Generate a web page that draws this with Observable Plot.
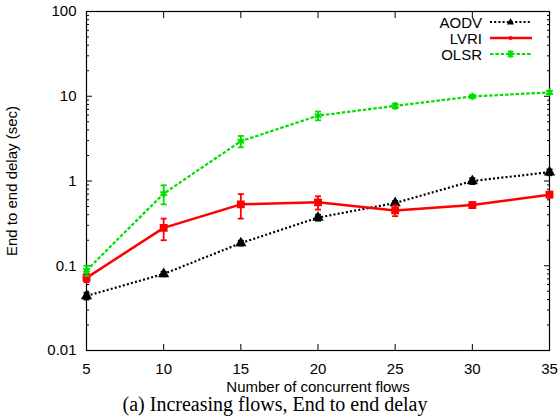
<!DOCTYPE html>
<html>
<head>
<meta charset="utf-8">
<script src="https://cdn.jsdelivr.net/npm/d3@7"></script>
<script src="https://cdn.jsdelivr.net/npm/@observablehq/plot@0.6"></script>
<style>
  html, body { margin: 0; padding: 0; background: #fff; }
  #wrap { position: relative; width: 558px; height: 419px; font-family: "Liberation Sans", Arial, sans-serif; }
  #legend { position: absolute; left: 0; width: 532px; top: 14px; font-size: 15px; color: #000; }
  #legend .row { display: flex; align-items: center; justify-content: flex-end; height: 16px; }
  #legend .row span { margin-right: 8px; }
  #caption { position: absolute; left: 0; width: 550px; top: 394px; text-align: center;
             font-family: "Liberation Serif", "Times New Roman", serif; font-size: 20px; line-height: 20px; }
</style>
</head>
<body>
<div id="wrap">
  <div id="chart"></div>
  <div id="legend"></div>
  <div id="caption">(a) Increasing flows, End to end delay</div>
</div>
<script>
// ---- data ----
const flows = [5, 10, 15, 20, 25, 30, 35];
const aodv    = [0.044, 0.080, 0.185, 0.37, 0.55, 1.00, 1.27];
const aodvErr = [0.004, 0.005, 0.012, 0.03, 0.03, 0.08, 0.10];
const lvri    = [0.072, 0.28, 0.53, 0.56, 0.45, 0.52, 0.69];
const lvriErr = [0.008, 0.08, 0.17, 0.10, 0.065, 0.04, 0.05];
const olsr    = [0.088, 0.71, 2.95, 5.9, 7.7, 9.95, 11.1];
const olsrErr = [0.012, 0.18, 0.45, 0.7, 0.5, 0.4, 0.5];
const seriesNames = ["AODV", "LVRI", "OLSR"];
const yTicks = [0.01, 0.1, 1, 10, 100];
const xTicks = [5, 10, 15, 20, 25, 30, 35];

const colors = {AODV: "#000000", LVRI: "#ff0000", OLSR: "#00e000"};
const dashes = {AODV: "2 2.2", LVRI: null, OLSR: "3.5 1.8"};

const values = {AODV: aodv, LVRI: lvri, OLSR: olsr};
const errs = {AODV: aodvErr, LVRI: lvriErr, OLSR: olsrErr};
const rows = seriesNames.flatMap(s => flows.map((f, i) => ({
  series: s, flows: f, v: values[s][i], lo: values[s][i] - errs[s][i], hi: values[s][i] + errs[s][i]
})));

const minorY = [];
for (let k = -2; k < 2; k++) for (let m = 2; m <= 9; m++) minorY.push(m * Math.pow(10, k));

const capSymbol = { draw(ctx, size) { const r = Math.sqrt(size / Math.PI); ctx.moveTo(-r, 0); ctx.lineTo(r, 0); } };

const marks = [
  Plot.frame({stroke: "black", strokeWidth: 1.2}),
  Plot.axisY(minorY, {anchor: "left", tickSize: -3, text: null, label: null}),
  Plot.axisY(minorY, {anchor: "right", tickSize: -3, text: null, label: null}),
  Plot.axisY(yTicks, {anchor: "right", tickSize: -6, text: null, label: null}),
  Plot.axisY(yTicks, {anchor: "left", tickSize: -6, tickPadding: 16, tickFormat: d => String(d),
    fontSize: 15, label: "End to end delay (sec)", labelAnchor: "center", labelOffset: 80, labelArrow: "none"}),
  Plot.axisX(xTicks, {anchor: "top", tickSize: -6, text: null, label: null}),
  Plot.axisX(xTicks, {anchor: "bottom", tickSize: -6, tickPadding: 19, fontSize: 15,
    label: "Number of concurrent flows", labelAnchor: "center", labelOffset: 41, labelArrow: "none"})
];
for (const s of seriesNames) {
  const d = rows.filter(r => r.series === s);
  marks.push(Plot.line(d, {x: "flows", y: "v", stroke: colors[s], strokeWidth: s === "LVRI" ? 2.5 : 2.2,
    strokeDasharray: dashes[s], strokeLinecap: "butt"}));
  marks.push(Plot.ruleX(d, {x: "flows", y1: "lo", y2: "hi", stroke: colors[s], strokeWidth: 1.8}));
  marks.push(Plot.dot(d, {x: "flows", y: "lo", symbol: capSymbol, r: 3, stroke: colors[s], strokeWidth: 1.8}));
  marks.push(Plot.dot(d, {x: "flows", y: "hi", symbol: capSymbol, r: 3, stroke: colors[s], strokeWidth: 1.8}));
  if (s === "OLSR") {
    marks.push(Plot.dot(d, {x: "flows", y: "v", symbol: "asterisk", r: 3.6, stroke: colors[s], strokeWidth: 2}));
  } else if (s === "AODV") {
    marks.push(Plot.dot(d, {x: "flows", y: "v", symbol: "triangle", r: 3.2, fill: colors[s], stroke: colors[s]}));
  } else {
    marks.push(Plot.dot(d, {x: "flows", y: "v", symbol: "square", r: 3.6, fill: colors[s], stroke: colors[s]}));
  }
}

const chart = Plot.plot({
  width: 558,
  height: 396,
  marginLeft: 86,
  marginRight: 9,
  marginTop: 11,
  marginBottom: 46,
  style: {fontFamily: "'Liberation Sans', Arial, sans-serif", fontSize: "15px", color: "#000", background: "#fff"},
  x: {domain: [5, 35]},
  y: {type: "log", domain: [0.01, 100]},
  marks
});
document.getElementById("chart").appendChild(chart);

// ---- legend (HTML overlay) ----
const legend = document.getElementById("legend");
const sampleSvg = (s) => {
  const c = colors[s];
  let marker = "";
  if (s === "AODV") marker = `<path d="M20.5,1 L24,7.5 L17,7.5 Z" fill="${c}"/>`;
  else if (s === "LVRI") marker = `<circle cx="20.5" cy="5" r="2" fill="${c}"/>`;
  else marker = `<path d="M18,2 L23,8 M23,2 L18,8 M20.5,1 L20.5,9" stroke="${c}" stroke-width="1.8"/>`;
  return `<svg width="42" height="10" style="display:block">
    <line x1="0" y1="5" x2="42" y2="5" stroke="${c}" stroke-width="${s === "LVRI" ? 2.5 : 2.2}" ${dashes[s] ? `stroke-dasharray="${dashes[s]}"` : ""}/>
    ${marker}</svg>`;
};
legend.innerHTML = seriesNames.map(s =>
  `<div class="row"><span>${s}</span>${sampleSvg(s)}</div>`).join("");
</script>
</body>
</html>
